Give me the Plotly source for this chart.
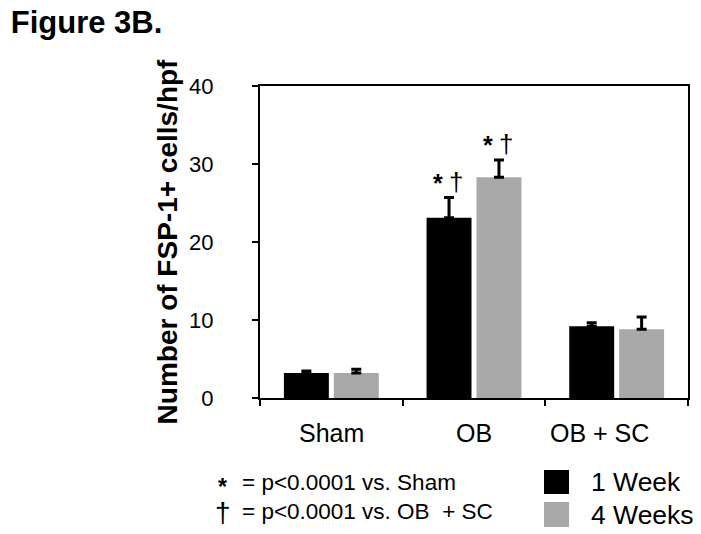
import plotly.graph_objects as go

categories = ["Sham", "OB", "OB + SC"]
series_names = ["1 Week", "4 Weeks"]
week1_values = [3.2, 23.1, 9.2]
week1_errors = [0.27, 2.6, 0.46]
week4_values = [3.2, 28.3, 8.8]
week4_errors = [0.5, 2.2, 1.6]
y_ticks = [0, 10, 20, 30, 40]
footnotes = ["= p&lt;0.0001 vs. Sham", "= p&lt;0.0001 vs. OB  + SC"]

FONT = "Liberation Sans, Arial, sans-serif"
BLACK = "#000000"
GRAY = "#a8a8a8"

fig = go.Figure()
for name, vals, errs, col in [
    (series_names[0], week1_values, week1_errors, BLACK),
    (series_names[1], week4_values, week4_errors, GRAY),
]:
    fig.add_trace(go.Bar(
        x=categories, y=vals, name=name, marker=dict(color=col, line=dict(width=0)),
        error_y=dict(type="data", symmetric=False, array=errs, arrayminus=[0] * len(errs),
                     color="black", thickness=3, width=5),
        showlegend=False,
    ))

annotations = []
# significance marks above OB bars
ob_idx = categories.index("OB")
for off, vals, errs in [(-0.175, week1_values, week1_errors), (0.175, week4_values, week4_errors)]:
    top = vals[ob_idx] + errs[ob_idx]
    annotations.append(dict(x=ob_idx + off, y=top, xref="x", yref="y", text="<b>*</b>",
                            showarrow=False, font=dict(family=FONT, size=25, color="black"),
                            xanchor="center", yanchor="middle", xshift=-11, yshift=15))
    annotations.append(dict(x=ob_idx + off, y=top, xref="x", yref="y", text="†",
                            showarrow=False, font=dict(family=FONT, size=26, color="black"),
                            xanchor="center", yanchor="middle", xshift=7, yshift=16))

# category labels
for i, c in enumerate(categories):
    annotations.append(dict(x=i, y=-0.112, xref="x", yref="paper", text=c, showarrow=False,
                            font=dict(family=FONT, size=25, color="black"),
                            xanchor="center", yanchor="middle",
                            xshift=-17 if c == "OB + SC" else 0))

# footnotes
annotations.append(dict(x=-0.087, y=-0.2844, xref="paper", yref="paper", text="<b>*</b>",
                        showarrow=False, font=dict(family=FONT, size=23, color="black"),
                        xanchor="center", yanchor="middle"))
annotations.append(dict(x=-0.087, y=-0.368, xref="paper", yref="paper", text="†",
                        showarrow=False, font=dict(family=FONT, size=28, color="black"),
                        xanchor="center", yanchor="middle"))
annotations.append(dict(x=-0.047, y=-0.272, xref="paper", yref="paper", text=footnotes[0],
                        showarrow=False, font=dict(family=FONT, size=22.5, color="black"),
                        xanchor="left", yanchor="middle"))
annotations.append(dict(x=-0.047, y=-0.365, xref="paper", yref="paper", text=footnotes[1],
                        showarrow=False, font=dict(family=FONT, size=22.5, color="black"),
                        xanchor="left", yanchor="middle"))

# manual legend
shapes = []
for name, col, y0, y1, yc in [(series_names[0], BLACK, -0.3077, -0.2308, -0.2692),
                              (series_names[1], GRAY, -0.4135, -0.3333, -0.3734)]:
    shapes.append(dict(type="rect", xref="paper", yref="paper", x0=0.6636, x1=0.722,
                       y0=y0, y1=y1, fillcolor=col, line=dict(width=0)))
    annotations.append(dict(x=0.769, y=yc, xref="paper", yref="paper", text=name,
                            showarrow=False, font=dict(family=FONT, size=26.5, color="black"),
                            xanchor="left", yanchor="middle"))

fig.update_layout(
    width=693, height=526,
    margin=dict(l=252, r=13, t=78, b=136),
    paper_bgcolor="white", plot_bgcolor="white",
    barmode="group", bargap=0.3, bargroupgap=0.1,
    font=dict(family=FONT, color="black"),
    title=dict(text="<b>Figure 3B.</b>", x=0.004, xref="container", xanchor="left",
               y=0.974, yref="container", yanchor="middle",
               font=dict(family=FONT, size=31, color="black")),
    annotations=annotations,
    shapes=shapes,
)
fig.update_xaxes(type="category", showline=True, linewidth=2, linecolor="black", mirror=True,
                 ticks="outside", tickson="boundaries", ticklen=6, tickwidth=2, tickcolor="black",
                 showticklabels=False, showgrid=False, zeroline=False)
fig.update_yaxes(range=[0, 40], tickvals=y_ticks, showline=True, linewidth=2, linecolor="black",
                 mirror=True, ticks="outside", ticklen=6, tickwidth=2, tickcolor="black",
                 tickfont=dict(family=FONT, size=22, color="black"), ticklabelstandoff=34,
                 showgrid=False, zeroline=False,
                 title=dict(text="<b>Number of FSP-1+ cells/hpf</b>", standoff=3,
                            font=dict(family=FONT, size=28, color="black")))

fig.write_html("out.html")
